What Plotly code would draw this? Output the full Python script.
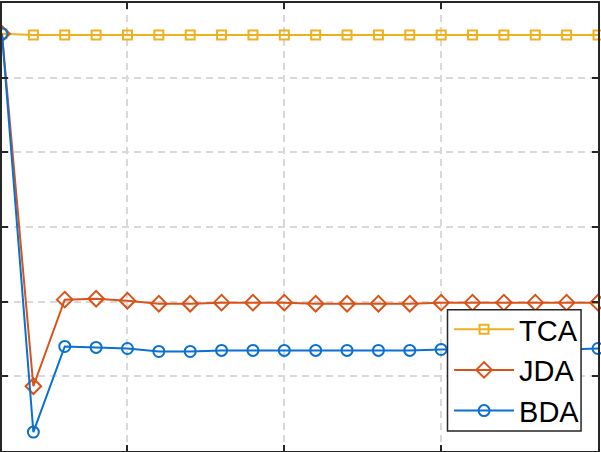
import plotly.graph_objects as go

x_vals = list(range(1, 21))
tca = [5.587] + [5.573] * 19
jda = [5.587, 0.867, 2.027, 2.040, 2.013, 1.973, 1.973, 1.987, 1.987, 1.987,
       1.973, 1.973, 1.973, 1.973, 1.987, 1.987, 1.987, 1.987, 1.987, 1.987]
bda = [5.587, 0.253, 1.400, 1.387, 1.373, 1.333, 1.333, 1.347, 1.347, 1.347,
       1.347, 1.347, 1.347, 1.347, 1.360, 1.360, 1.360, 1.360, 1.360, 1.373]
x_ticks = [5, 10, 15]
y_ticks = [1, 2, 3, 4, 5]

series = [
    ("TCA", tca, "#EDB120", "square-open", 9),
    ("JDA", jda, "#D95319", "diamond-open", 12),
    ("BDA", bda, "#0A70D2", "circle-open", 11),
]

fig = go.Figure()
for name, vals, color, sym, size in series:
    fig.add_trace(go.Scatter(
        x=x_vals, y=vals, name=name, mode="lines+markers",
        line=dict(color=color, width=2),
        marker=dict(symbol=sym, size=size, color=color, line=dict(color=color, width=2)),
        cliponaxis=False,
    ))

axis_common = dict(
    showline=True, linecolor="#262626", linewidth=2, mirror="ticks",
    ticks="inside", ticklen=6, tickwidth=2, tickcolor="#262626",
    showticklabels=False, showgrid=True, gridcolor="#d9d9d9", gridwidth=1.5,
    griddash="7px,5px", zeroline=False,
)
fig.update_xaxes(range=[1, 20], tickvals=x_ticks, **axis_common)
fig.update_yaxes(range=[0, 6], tickvals=y_ticks, **axis_common)

# legend box (frame behind the legend entries)
fig.add_shape(
    type="rect", xref="paper", yref="paper",
    x0=(449 - 2) / 598, x1=(583 - 2) / 598,
    y0=(451 - 431) / 450, y1=(451 - 309) / 450,
    fillcolor="white", line=dict(color="#262626", width=1.5), layer="above",
)

fig.update_layout(
    width=601, height=452,
    margin=dict(l=2, r=1, t=1, b=1),
    paper_bgcolor="white", plot_bgcolor="white",
    showlegend=True,
    legend=dict(
        x=0.9783, y=0.0316, xanchor="right", yanchor="bottom",
        bgcolor="rgba(0,0,0,0)", borderwidth=0,
        font=dict(family="Liberation Sans, Arial", size=29, color="black"),
        itemwidth=60, tracegroupgap=0,
    ),
)

fig.write_html("out.html")
